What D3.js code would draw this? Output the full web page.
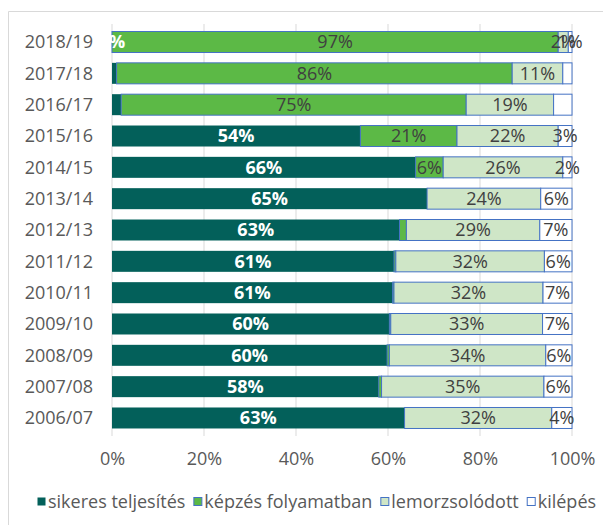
<!DOCTYPE html>
<html>
<head>
<meta charset="utf-8">
<script src="https://cdn.jsdelivr.net/npm/d3@7"></script>
<style>
  body { margin: 0; background: #fff; }
  text { font-family: "Open Sans", sans-serif; }
</style>
</head>
<body>
<div id="chart"></div>
<script>
// tanévek, felülről lefelé
var years = ["2018/19","2017/18","2016/17","2015/16","2014/15","2013/14","2012/13",
             "2011/12","2010/11","2009/10","2008/09","2007/08","2006/07"];

// sávok szélessége (%)
var sikeres  = [0, 1, 2, 54, 66, 68.5, 62.5, 61.3, 61, 60.3, 59.8, 58, 63.6];
var kepzes   = [97, 86, 75, 21, 6, 0, 1.5, 0.4, 0.3, 0.3, 0.5, 0.6, 0];
var lemorzs  = [2.2, 11, 19, 22, 26, 24.7, 29, 32.3, 32.4, 33, 34, 35.3, 32];
var kilepes  = [0.8, 2, 4, 3, 2, 6.8, 7, 6, 6.3, 6.4, 5.7, 6.1, 4.4];

// feliratok ahogy az eredetin láthatók ("" = nincs felirat)
var sikeresLbl = ["0%","","","54%","66%","65%","63%","61%","61%","60%","60%","58%","63%"];
var kepzesLbl  = ["97%","86%","75%","21%","6%","","","","","","","",""];
var lemorzsLbl = ["2%","11%","19%","22%","26%","24%","29%","32%","32%","33%","34%","35%","32%"];
var kilepesLbl = ["1%","","","3%","2%","6%","7%","6%","7%","7%","6%","6%","4%"];

var ticks = [0, 20, 40, 60, 80, 100];
var seriesNames = ["sikeres teljesítés","képzés folyamatban","lemorzsolódott","kilépés"];
var colors = ["#03605a","#5cb946","#cfe6c7","#ffffff"];
var strokes = ["none","#4472c4","#4472c4","#4472c4"];

var W = 603, H = 525, fs = 18;
var svg = d3.select("#chart").append("svg").attr("width", W).attr("height", H);

var keys = ["s","k","l","e"];
var rows = years.map(function(y, i){
  return {year: y, s: sikeres[i], k: kepzes[i], l: lemorzs[i], e: kilepes[i]};
});
var labels = {s: sikeresLbl, k: kepzesLbl, l: lemorzsLbl, e: kilepesLbl};

var x = d3.scaleLinear().domain([0, 100]).range([112, 572]);
var y = d3.scaleBand().domain(years).range([24, 436]).paddingInner(0.33).paddingOuter(0.24);

// chart keret
svg.append("path").attr("d", "M8.5,525V11.5H603").attr("fill","none").attr("stroke","#d9d9d9");

// rács
svg.append("g").selectAll("line").data(ticks).enter().append("line")
  .attr("x1", d => x(d)).attr("x2", d => x(d))
  .attr("y1", 24).attr("y2", 436)
  .attr("stroke", "#d9d9d9").attr("stroke-width", 1);

var stack = d3.stack().keys(keys)(rows);

var layers = svg.append("g").selectAll("g").data(stack).enter().append("g")
  .attr("fill", (d, i) => colors[i])
  .attr("stroke", (d, i) => strokes[i]);

layers.selectAll("rect").data(d => d).enter().append("rect")
  .attr("x", d => x(d[0]))
  .attr("y", d => y(d.data.year))
  .attr("width", d => Math.max(0, x(d[1]) - x(d[0])))
  .attr("height", y.bandwidth());

// értékfeliratok
stack.forEach(function(layer, si){
  var key = keys[si];
  svg.append("g").selectAll("text").data(layer).enter().append("text")
    .attr("x", d => x((d[0] + d[1]) / 2))
    .attr("y", d => y(d.data.year) + y.bandwidth() / 2)
    .attr("dy", "0.36em")
    .attr("text-anchor", "middle")
    .attr("font-size", fs)
    .attr("font-weight", si == 0 ? "bold" : "normal")
    .attr("fill", si == 0 ? "#ffffff" : "#404040")
    .text((d, i) => labels[key][i]);
});

// kategória tengely
svg.append("g").selectAll("text").data(years).enter().append("text")
  .attr("x", 93).attr("y", d => y(d) + y.bandwidth() / 2)
  .attr("dy", "0.36em").attr("text-anchor", "end")
  .attr("font-size", fs).attr("fill", "#595959")
  .text(d => d);

// x tengely feliratai
var xAxis = d3.axisBottom(x).tickValues(ticks).tickFormat(d => d + "%").tickSize(0).tickPadding(0);
var ax = svg.append("g").attr("transform", "translate(0,452)").call(xAxis);
ax.select(".domain").remove();
ax.selectAll("text").attr("font-size", fs).attr("fill", "#595959")
  .attr("font-family", "Open Sans, sans-serif").attr("dy", "0.71em");

// jelmagyarázat
var lg = svg.append("g");
var lx = 37;
seriesNames.forEach(function(name, i){
  lg.append("rect").attr("x", lx + 0.5).attr("y", 497.5).attr("width", 8).attr("height", 8)
    .attr("fill", colors[i]).attr("stroke", strokes[i]);
  var t = lg.append("text").attr("x", lx + 11).attr("y", 501.5).attr("dy", "0.36em")
    .attr("font-size", fs).attr("fill", "#595959").text(name);
  lx = lx + 11 + t.node().getComputedTextLength() + 8;
});
</script>
</body>
</html>
